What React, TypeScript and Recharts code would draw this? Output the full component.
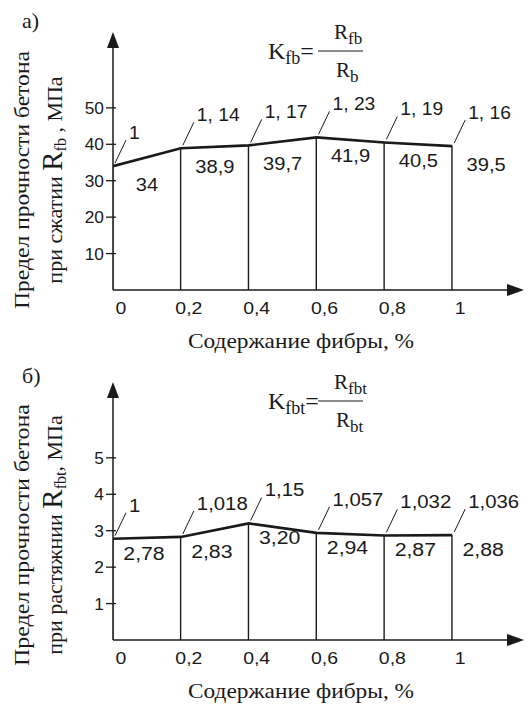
import React from "react";
import { ComposedChart, Line, Bar, XAxis, YAxis, LabelList } from "recharts";

// содержание фибры, %
const fiber = [0, 0.2, 0.4, 0.6, 0.8, 1];
const fiberTicks = [0, 0.2, 0.4, 0.6, 0.8, 1];

// а) сжатие
const compStrength = [34, 38.9, 39.7, 41.9, 40.5, 39.5];
const compRatio = ["1", "1, 14", "1, 17", "1, 23", "1, 19", "1, 16"];
const compTicks = [10, 20, 30, 40, 50];

// б) растяжение
const tensStrength = [2.78, 2.83, 3.2, 2.94, 2.87, 2.88];
const tensRatio = ["1", "1,018", "1,15", "1,057", "1,032", "1,036"];
const tensTicks = [1, 2, 3, 4, 5];

const SANS = "'Liberation Sans', Arial, sans-serif";
const SERIF = "'Liberation Serif', 'Times New Roman', serif";
const INK = "#1a1a1a";
const comma = (v: number | string) => String(v).replace(".", ",");

// sans text, a bit stretched sideways like the scan
const SText = ({ x, y, size, sx = 1.15, anchor = "start", children }: any) => (
  <text
    transform={`translate(${x},${y}) scale(${sx},1)`}
    textAnchor={anchor}
    fontSize={size}
    fontFamily={SANS}
    fill={INK}
  >
    {children}
  </text>
);

const XTick = (p: any) => (
  <SText x={p.x + 8} y={p.y + 24} size={16.5} sx={1.18} anchor="middle">
    {comma(p.payload.value)}
  </SText>
);

const YTick = (p: any) => (
  <g>
    <line x1={p.x - 7} x2={p.x + 3} y1={p.y} y2={p.y} stroke={INK} strokeWidth={1.3} />
    <SText x={p.x - 9} y={p.y + 6} size={16.5} sx={1.05} anchor="end">
      {p.payload.value}
    </SText>
  </g>
);

type PanelProps = {
  values: number[];
  ratios: string[];
  ticks: number[];
  yMax: number;
  fmt: (v: number) => string;
  valDx: number;
  valDy: number;
  valSize: number;
  titleY: number;
  letter: string;
  sub: string;
  den: string;
  axisWord: string;
  line1Len: number;
  line2Len: number;
};

const Panel = (props: PanelProps) => {
  const { values, ratios, ticks, yMax, fmt, valDx, valDy, valSize, titleY, letter, sub, den, axisWord } = props;
  const data = fiber.map((x, i) => ({ x, r: values[i], k: ratios[i] }));

  const valueLabel = (p: any) => (
    <SText x={p.x + valDx} y={p.y + valDy} size={valSize} sx={1.15} anchor="middle">
      {fmt(p.value)}
    </SText>
  );

  const ratioLabel = (p: any) => (
    <g>
      <line x1={p.x + 2} y1={p.y - 3} x2={p.x + 13} y2={p.y - 26} stroke={INK} strokeWidth={1} />
      <SText x={p.x + 16} y={p.y - 27} size={valSize} sx={1.1}>
        {p.value}
      </SText>
    </g>
  );

  return (
    <div style={{ position: "relative", width: 530, height: 350 }}>
      <ComposedChart width={530} height={350} data={data} margin={{ top: 35, right: 10, left: 73, bottom: 30 }}>
        <XAxis
          type="number"
          dataKey="x"
          domain={[0, 1.2]}
          ticks={fiberTicks}
          interval={0}
          height={30}
          allowDataOverflow
          axisLine={{ stroke: INK, strokeWidth: 1.5 }}
          tickLine={false}
          tickSize={0}
          tickMargin={0}
          tick={XTick}
        />
        <YAxis
          type="number"
          domain={[0, yMax]}
          ticks={ticks}
          interval={0}
          width={40}
          allowDataOverflow
          axisLine={{ stroke: INK, strokeWidth: 1.5 }}
          tickLine={false}
          tickSize={0}
          tickMargin={0}
          tick={YTick}
        />
        <Bar dataKey="r" barSize={1.4} fill={INK} isAnimationActive={false} />
        <Line
          type="linear"
          dataKey="r"
          stroke={INK}
          strokeWidth={2.6}
          dot={false}
          activeDot={false}
          isAnimationActive={false}
        >
          <LabelList dataKey="r" content={valueLabel} />
          <LabelList dataKey="k" content={ratioLabel} />
        </Line>
      </ComposedChart>

      <svg
        width={530}
        height={360}
        style={{ position: "absolute", left: 0, top: 0, overflow: "visible", pointerEvents: "none" }}
      >
        <polygon points="113,32 107,48 119,48" fill={INK} />
        <polygon points="524,290 507,284 507,296" fill={INK} />

        <text x={22} y={titleY} fontSize={22} fontFamily={SERIF} fill={INK}>
          {letter}
        </text>

        <text
          transform={`translate(29,${titleY === 28 ? 180 : 185}) rotate(-90)`}
          textAnchor="middle"
          fontSize={22}
          fontFamily={SERIF}
          fill={INK}
          textLength={props.line1Len}
          lengthAdjust="spacingAndGlyphs"
        >
          Предел прочности бетона
        </text>
        <text
          transform={`translate(62,${titleY === 28 ? 180 : 185}) rotate(-90)`}
          textAnchor="middle"
          fontSize={22}
          fontFamily={SERIF}
          fill={INK}
        >
          {axisWord + " "}
          <tspan fontSize={29}>R</tspan>
          <tspan fontSize={16} dy={4}>
            {sub}
          </tspan>
          <tspan dy={-4}>{sub === "fb" ? " , МПа" : ", МПа"}</tspan>
        </text>

        <text
          x={301}
          y={348}
          textAnchor="middle"
          fontSize={21}
          fontFamily={SERIF}
          fill={INK}
          textLength={226}
          lengthAdjust="spacingAndGlyphs"
        >
          Содержание фибры, %
        </text>

        <text x={268} y={59} fontSize={24} fontFamily={SERIF} fill={INK}>
          K<tspan fontSize={18} dy={5}>{sub}</tspan>
          <tspan dy={-5}>=</tspan>
        </text>
        <line x1={318} x2={363} y1={51} y2={51} stroke={INK} strokeWidth={1.2} />
        <text x={334} y={39} fontSize={21} fontFamily={SERIF} fill={INK}>
          R<tspan fontSize={17} dy={5}>{sub}</tspan>
        </text>
        <text x={336} y={77} fontSize={21} fontFamily={SERIF} fill={INK}>
          R<tspan fontSize={17} dy={5}>{den}</tspan>
        </text>
      </svg>
    </div>
  );
};

export default function App() {
  return (
    <div style={{ position: "absolute", left: 0, top: 0, width: 530, height: 706, background: "#fff" }}>
      <Panel
        values={compStrength}
        ratios={compRatio}
        ticks={compTicks}
        yMax={70}
        fmt={(v) => (Number.isInteger(v) ? String(v) : comma(v.toFixed(1)))}
        valDx={34}
        valDy={25}
        valSize={17.5}
        titleY={28}
        letter="а)"
        sub="fb"
        den="b"
        axisWord="при сжатии"
        line1Len={258}
        line2Len={228}
      />
      <Panel
        values={tensStrength}
        ratios={tensRatio}
        ticks={tensTicks}
        yMax={7}
        fmt={(v) => comma(v.toFixed(2))}
        valDx={31}
        valDy={21}
        valSize={18.5}
        titleY={33}
        letter="б)"
        sub="fbt"
        den="bt"
        axisWord="при растяжнии"
        line1Len={262}
        line2Len={270}
      />
    </div>
  );
}
